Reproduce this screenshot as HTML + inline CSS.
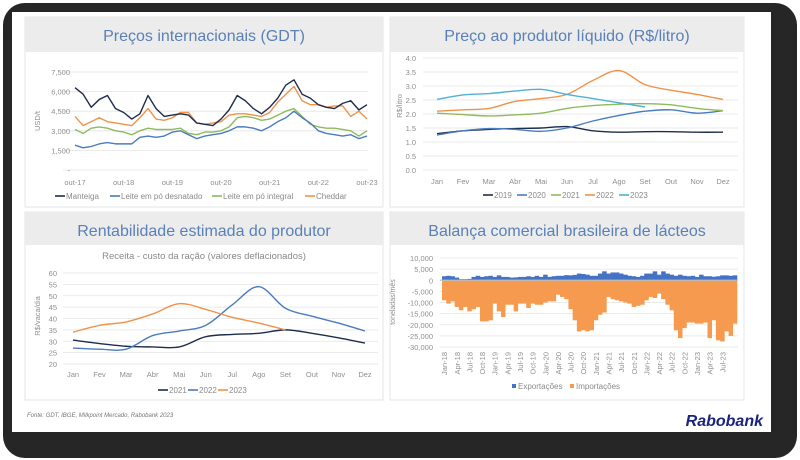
<!DOCTYPE html>
<html><head><meta charset="utf-8">
<style>
html,body{margin:0;padding:0;background:#fff;}
svg{display:block;font-family:"Liberation Sans",sans-serif;}
</style></head>
<body>
<svg id="root" width="800" height="460" viewBox="0 0 800 460" xmlns="http://www.w3.org/2000/svg">
  <rect x="3" y="3" width="794" height="455" rx="22" fill="#262626"/>
  <rect x="12" y="12" width="759" height="420" fill="#ffffff"/>
  <g>
    <rect x="25" y="17" width="358" height="190" fill="#fff" stroke="#e4e4e4"/>
    <rect x="25" y="17" width="358" height="35" fill="#ececec"/>
    <text x="204" y="41" text-anchor="middle" font-size="16" fill="#5a80b6">Preços internacionais (GDT)</text>
  </g>
  <g>
    <rect x="390" y="17" width="354" height="190" fill="#fff" stroke="#e4e4e4"/>
    <rect x="390" y="17" width="354" height="35" fill="#ececec"/>
    <text x="567" y="41" text-anchor="middle" font-size="16" fill="#5a80b6">Preço ao produtor líquido (R$/litro)</text>
  </g>
  <g>
    <rect x="25" y="212" width="358" height="188" fill="#fff" stroke="#e4e4e4"/>
    <rect x="25" y="212" width="358" height="33" fill="#ececec"/>
    <text x="204" y="236" text-anchor="middle" font-size="16" fill="#5a80b6">Rentabilidade estimada do produtor</text>
    <text x="204" y="259" text-anchor="middle" font-size="9.5" fill="#8a8a8a">Receita - custo da ração (valores deflacionados)</text>
  </g>
  <g>
    <rect x="390" y="212" width="354" height="188" fill="#fff" stroke="#e4e4e4"/>
    <rect x="390" y="212" width="354" height="33" fill="#ececec"/>
    <text x="567" y="236" text-anchor="middle" font-size="16" fill="#5a80b6">Balança comercial brasileira de lácteos</text>
  </g>
  <text x="27" y="417" font-size="6" font-style="italic" fill="#777">Fonte: GDT, IBGE, Milkpoint Mercado, Rabobank 2023</text>
  <text x="763" y="426" text-anchor="end" font-size="16" font-weight="bold" font-style="italic" fill="#1a237e">Rabobank</text>
  <g id="c1"></g><g id="c2"></g><g id="c3"></g><g id="c4"></g>
</svg>
<script>
// ---- Chart 1 data (bi-monthly, out-17 .. out-23)
const gdtTicks = [0, 1500, 3000, 4500, 6000, 7500];
const gdtTickLabels = ["-", "1,500", "3,000", "4,500", "6,000", "7,500"];
const gdtXLabels = ["out-17","out-18","out-19","out-20","out-21","out-22","out-23"];
const manteiga = [6300,5800,4800,5400,5700,4700,4400,3900,4300,5700,4700,4100,4200,4300,4200,3600,3500,3400,3900,4600,5700,5300,4700,4300,4800,5500,6500,6900,5800,5500,5000,4800,4700,5100,5300,4600,5000];
const desnatado = [1900,1700,1800,2000,2100,2000,2000,2000,2500,2600,2500,2600,2900,3000,2700,2400,2600,2700,2800,3000,3300,3300,3200,3000,3300,3700,4000,4500,4000,3600,3000,2800,2700,2600,2700,2400,2600];
const integral = [3100,2800,3200,3300,3200,3000,2900,2700,3000,3200,3100,3100,3100,3200,2800,2700,2900,2900,3000,3300,4000,4100,4000,3800,3900,4200,4500,4700,4100,3500,3300,3200,3200,3100,3000,2600,3000];
const cheddar = [4100,3400,3700,4000,3700,3600,3500,3400,4000,4700,3900,3800,4000,4400,4400,3600,3500,3600,3700,4200,4300,4300,4200,4100,4400,5200,5800,6400,5300,5000,5000,4800,4900,4900,4100,4500,3900];
// ---- Chart 2 data
const months = ["Jan","Fev","Mar","Abr","Mai","Jun","Jul","Ago","Set","Out","Nov","Dez"];
const priceTicks = [0,0.5,1,1.5,2,2.5,3,3.5,4];
const price2019 = [1.3,1.4,1.45,1.48,1.5,1.55,1.4,1.35,1.37,1.37,1.35,1.35];
const price2020 = [1.25,1.4,1.48,1.45,1.38,1.5,1.75,1.95,2.1,2.15,2.03,2.12];
const price2021 = [2.03,1.98,1.93,1.97,2.03,2.2,2.3,2.35,2.37,2.33,2.2,2.12];
const price2022 = [2.1,2.15,2.2,2.45,2.55,2.7,3.2,3.55,3.05,2.85,2.7,2.52];
const price2023 = [2.52,2.68,2.73,2.82,2.88,2.7,2.55,2.4,2.25];
// ---- Chart 3 data
const profitTicks = [20,25,30,35,40,45,50,55,60];
const profit2021 = [30.5,29,27.8,27.5,27.5,32,33,33.5,35,33.5,31.5,29.2];
const profit2022 = [27,26.5,26.5,32.5,34.5,37,46,54,44.5,41,38,34.5];
const profit2023 = [34,37,38.5,42,46.5,44,40.5,38,35];
// ---- Chart 4 data (Jan-18 .. Oct-23)
const tradeTicks = [-30000,-25000,-20000,-15000,-10000,-5000,0,5000,10000];
const tradeTickLabels = ["-30,000","-25,000","-20,000","-15,000","-10,000","-5,000","0","5,000","10,000"];
const tradeXLabels = ["Jan-18","Apr-18","Jul-18","Oct-18","Jan-19","Apr-19","Jul-19","Oct-19","Jan-20","Apr-20","Jul-20","Oct-20","Jan-21","Apr-21","Jul-21","Oct-21","Jan-22","Apr-22","Jul-22","Oct-22","Jan-23","Apr-23","Jul-23"];
const exportsT = [1800,2000,1800,1200,500,500,600,1500,2000,1500,1800,2000,1500,2200,1500,1500,1200,1300,1500,1500,1800,1500,2000,1500,2500,1500,1800,2000,2000,2300,2200,2400,3000,2800,2500,2000,2000,3000,4000,3000,3500,3500,3000,2500,2000,1800,1500,2000,3000,3000,4000,2500,4000,3000,2500,2000,2500,2000,1800,2000,1500,2500,1800,1800,1600,1800,2200,2200,2000,2200];
const importsT = [-9000,-10500,-9500,-12000,-13500,-12000,-14000,-13000,-12000,-18500,-18500,-18000,-10500,-14000,-16500,-11000,-11000,-14000,-10500,-10500,-12500,-10500,-11000,-11000,-10000,-9500,-9500,-6500,-7500,-8500,-13000,-18000,-23000,-22500,-23000,-22500,-18000,-15500,-14500,-7500,-8500,-9000,-9500,-10000,-10500,-12000,-11500,-11000,-9000,-7500,-8000,-6000,-8500,-11000,-13500,-22500,-26000,-21500,-19000,-19000,-19500,-19500,-19000,-26000,-18000,-27000,-27500,-23000,-25000,-19500];

const NS = "http://www.w3.org/2000/svg";
function mk(parent, tag, attrs, txt){
  const e = document.createElementNS(NS, tag);
  for (const k in attrs) e.setAttribute(k, attrs[k]);
  if (txt !== undefined) e.textContent = txt;
  parent.appendChild(e);
  return e;
}
function lin(d0,d1,r0,r1){ return v => r0 + (v-d0)/(d1-d0)*(r1-r0); }
function smoothPath(pts){
  let d = "M"+pts[0][0]+","+pts[0][1];
  for (let i=0;i<pts.length-1;i++){
    const p0=pts[i-1]||pts[i], p1=pts[i], p2=pts[i+1], p3=pts[i+2]||p2;
    const c1=[p1[0]+(p2[0]-p0[0])/6, p1[1]+(p2[1]-p0[1])/6];
    const c2=[p2[0]-(p3[0]-p1[0])/6, p2[1]-(p3[1]-p1[1])/6];
    d += " C"+c1[0]+","+c1[1]+" "+c2[0]+","+c2[1]+" "+p2[0]+","+p2[1];
  }
  return d;
}
function legendLine(g, x, y, color, label, name){
  const l = mk(g,"line",{x1:x,y1:y,x2:x+10,y2:y,stroke:color,"stroke-width":1.6});
  
  
  const t = mk(g,"text",{x:x+11,y:y+3,"font-size":8,fill:"#8a8a8a"},label);
  
  
}
const GRID = "#e3e3e3", LBL = "#8f8f8f";

// ===== Chart 1 =====
(function(){
  const g = document.getElementById("c1");
  const y = lin(0,7500,170,72);
  const x = lin(0, manteiga.length-1, 75, 367);
  gdtTicks.forEach((v,i)=>{
    const gl = mk(g,"line",{x1:63,x2:368,y1:y(v),y2:y(v),stroke:GRID,"stroke-width":0.8});
    
    
    const t = mk(g,"text",{x:70,y:y(v)+3,"text-anchor":"end","font-size":7.5,fill:LBL},gdtTickLabels[i]);
    
    
  });
  const yt = mk(g,"text",{x:0,y:0,"font-size":7.5,fill:LBL,transform:"translate(40,121) rotate(-90)","text-anchor":"middle"},"USD/t");
  
  
  const xl = lin(0, gdtXLabels.length-1, 75, 367);
  gdtXLabels.forEach((s,i)=>{
    const t = mk(g,"text",{x:xl(i),y:185,"text-anchor":"middle","font-size":7.5,fill:LBL},s);
    
    
  });
  const series = [[integral,"#8dbb5b","line-leite-integral"],[desnatado,"#4a7cc0","line-leite-desnatado"],[cheddar,"#f0924a","line-cheddar"],[manteiga,"#1f2d4d","line-manteiga"]];
  series.forEach(([arr,c,n])=>{
    const p = mk(g,"polyline",{points:arr.map((v,i)=>x(i)+","+y(v)).join(" "),fill:"none",stroke:c,"stroke-width":1.4,"stroke-linejoin":"round"});
    
    
  });
  legendLine(g,55,196,"#1f2d4d","Manteiga","legend-manteiga");
  legendLine(g,110,196,"#4a7cc0","Leite em pó desnatado","legend-leite-desnatado");
  legendLine(g,212,196,"#8dbb5b","Leite em pó integral","legend-leite-integral");
  legendLine(g,305,196,"#f0924a","Cheddar","legend-cheddar");
})();

// ===== Chart 2 =====
(function(){
  const g = document.getElementById("c2");
  const y = lin(0,4,170,58);
  const x = lin(0,11,437,723);
  priceTicks.forEach(v=>{
    const gl = mk(g,"line",{x1:423,x2:738,y1:y(v),y2:y(v),stroke:GRID,"stroke-width":0.8});
    
    
    const t = mk(g,"text",{x:416,y:y(v)+3,"text-anchor":"end","font-size":7.5,fill:LBL},v.toFixed(1));
    
    
  });
  const yt = mk(g,"text",{x:0,y:0,"font-size":7.5,fill:LBL,transform:"translate(402,106) rotate(-90)","text-anchor":"middle"},"R$/litro");
  
  
  months.forEach((m,i)=>{
    const t = mk(g,"text",{x:x(i),y:184,"text-anchor":"middle","font-size":7.5,fill:LBL},m);
    
    
  });
  [[price2019,"#1f2d4d","line-2019"],[price2020,"#4a7cc0","line-2020"],[price2021,"#8dbb5b","line-2021"],[price2022,"#f0924a","line-2022"],[price2023,"#4fb0d8","line-2023"]].forEach(([a,c,n])=>{
    const p = mk(g,"path",{d:smoothPath(a.map((v,i)=>[x(i),y(v)])),fill:"none",stroke:c,"stroke-width":1.4});
    
    
  });
  ["2019","2020","2021","2022","2023"].forEach((s,i)=>{
    legendLine(g,483+i*34,195,["#1f2d4d","#4a7cc0","#8dbb5b","#f0924a","#4fb0d8"][i],s,"price-legend-"+s);
  });
})();

// ===== Chart 3 =====
(function(){
  const g = document.getElementById("c3");
  const y = lin(20,60,364,273);
  const x = lin(0,11,73,365);
  profitTicks.forEach(v=>{
    const gl = mk(g,"line",{x1:63,x2:378,y1:y(v),y2:y(v),stroke:GRID,"stroke-width":0.8});
    
    
    const t = mk(g,"text",{x:57,y:y(v)+3,"text-anchor":"end","font-size":7.5,fill:LBL},v);
    
    
  });
  const yt = mk(g,"text",{x:0,y:0,"font-size":7.5,fill:LBL,transform:"translate(40,316) rotate(-90)","text-anchor":"middle"},"R$/vaca/dia");
  
  
  months.forEach((m,i)=>{
    const t = mk(g,"text",{x:x(i),y:377,"text-anchor":"middle","font-size":7.5,fill:LBL},m);
    
    
  });
  [[profit2021,"#1f2d4d","line-2021"],[profit2022,"#4a7cc0","line-2022"],[profit2023,"#f0924a","line-2023"]].forEach(([a,c,n])=>{
    const p = mk(g,"path",{d:smoothPath(a.map((v,i)=>[x(i),y(v)])),fill:"none",stroke:c,"stroke-width":1.4});
    
    
  });
  ["2021","2022","2023"].forEach((s,i)=>{
    legendLine(g,158+i*30,390,["#1f2d4d","#4a7cc0","#f0924a"][i],s,"profit-legend-"+s);
  });
})();

// ===== Chart 4 =====
(function(){
  const g = document.getElementById("c4");
  const y = lin(-30000,10000,347,258);
  const x0 = 442, x1 = 737, n = importsT.length, bw = (x1-x0)/n;
  tradeTicks.forEach((v,i)=>{
    const gl = mk(g,"line",{x1:440,x2:738,y1:y(v),y2:y(v),stroke:GRID,"stroke-width":0.8});
    
    
    const t = mk(g,"text",{x:433,y:y(v)+3,"text-anchor":"end","font-size":7.5,fill:LBL},tradeTickLabels[i]);
    
    
  });
  const yt = mk(g,"text",{x:0,y:0,"font-size":7,fill:LBL,transform:"translate(395,302) rotate(-90)","text-anchor":"middle"},"toneladas/mês");
  
  
  importsT.forEach((v,i)=>{
    const r = mk(g,"rect",{x:x0+i*bw,y:y(0),width:bw+0.3,height:y(v)-y(0),fill:"#f59a4e"});
    
    
  });
  exportsT.forEach((v,i)=>{
    const r = mk(g,"rect",{x:x0+i*bw,y:y(v),width:bw+0.3,height:y(0)-y(v),fill:"#4472c4"});
    
    
  });
  const ax = mk(g,"line",{x1:440,x2:738,y1:y(0),y2:y(0),stroke:"#bdbdbd","stroke-width":1.2});
  
  
  tradeXLabels.forEach((s,i)=>{
    const cx = x0 + (i*3+0.5)*bw + 3;
    const t = mk(g,"text",{x:0,y:0,"font-size":7.5,fill:LBL,"text-anchor":"end",transform:"translate("+cx+",352) rotate(-90)"},s);
    
    
  });
  const s1 = mk(g,"rect",{x:512,y:384,width:4,height:4,fill:"#4472c4"});
  
  
  const t1 = mk(g,"text",{x:518,y:389,"font-size":8,fill:"#8a8a8a"},"Exportações");
  
  
  const s2 = mk(g,"rect",{x:570,y:384,width:4,height:4,fill:"#f59a4e"});
  
  
  const t2 = mk(g,"text",{x:576,y:389,"font-size":8,fill:"#8a8a8a"},"Importações");
  
  
})();
</script>
</body></html>
